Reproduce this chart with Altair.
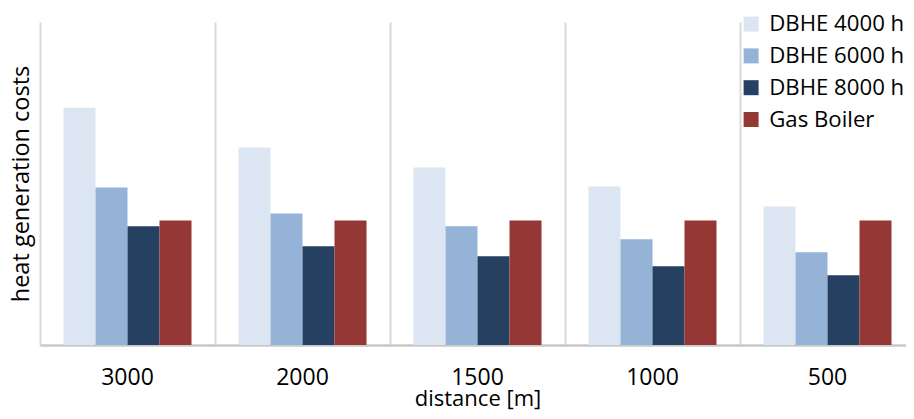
import altair as alt
import pandas as pd

distances = ["3000", "2000", "1500", "1000", "500"]
series = ["DBHE 4000 h", "DBHE 6000 h", "DBHE 8000 h", "Gas Boiler"]
dbhe_4000 = [238, 198, 178, 159, 139]
dbhe_6000 = [158, 132, 119, 106, 93]
dbhe_8000 = [119, 99, 89, 79, 70]
gas_boiler = [125, 125, 125, 125, 125]
colors = ["#dce6f2", "#95b3d7", "#254061", "#953735"]

rows = []
for name, vals in zip(series, [dbhe_4000, dbhe_6000, dbhe_8000, gas_boiler]):
    for d, v in zip(distances, vals):
        rows.append({"distance": d, "series": name, "cost": v})
df = pd.DataFrame(rows)

FONT = "Open Sans"

chart = alt.Chart(df).mark_bar().encode(
    x=alt.X(
        "distance:N",
        sort=distances,
        scale=alt.Scale(paddingInner=0, paddingOuter=0, range=[0, 875]),
        axis=alt.Axis(
            title="distance [m]",
            labelAngle=0,
            ticks=False,
            grid=True,
            bandPosition=0,
            gridColor="#d9d9d9",
            gridWidth=2,
            domainColor="#c8c8c8",
            domainWidth=2.5,
            labelFont=FONT,
            labelFontSize=23,
            labelColor="#000000",
            labelPadding=21,
            titleFont=FONT,
            titleFontSize=22,
            titleFontWeight="normal",
            titleColor="#000000",
            titleY=60,
            titleBaseline="alphabetic",
        ),
    ),
    xOffset=alt.XOffset(
        "series:N",
        sort=series,
        scale=alt.Scale(paddingInner=0, paddingOuter=0.734),
    ),
    y=alt.Y(
        "cost:Q",
        scale=alt.Scale(domain=[0, 324], nice=False),
        axis=alt.Axis(
            title="heat generation costs",
            labels=False,
            ticks=False,
            grid=False,
            domain=False,
            titleFont=FONT,
            titleFontSize=23.5,
            titleFontWeight="normal",
            titleColor="#000000",
            titleX=-12,
            titleY=161.5,
            titleBaseline="alphabetic",
        ),
    ),
    color=alt.Color(
        "series:N",
        sort=series,
        scale=alt.Scale(domain=series, range=colors),
        legend=alt.Legend(
            title=None,
            orient="none",
            legendX=700,
            legendY=-9,
            symbolType="square",
            symbolSize=225,
            symbolStrokeWidth=0,
            labelFont=FONT,
            labelFontSize=22.2,
            labelColor="#000000",
            labelOffset=7,
            rowPadding=8.8,
            padding=0,
        ),
    ),
).properties(
    width=866,
    height=323,
    autosize=alt.AutoSizeParams(type="none"),
    padding={"left": 32, "top": 14, "right": 0, "bottom": 66},
).configure_view(stroke=None)

chart.save("out.html", embed_options={"renderer": "svg", "actions": False})
